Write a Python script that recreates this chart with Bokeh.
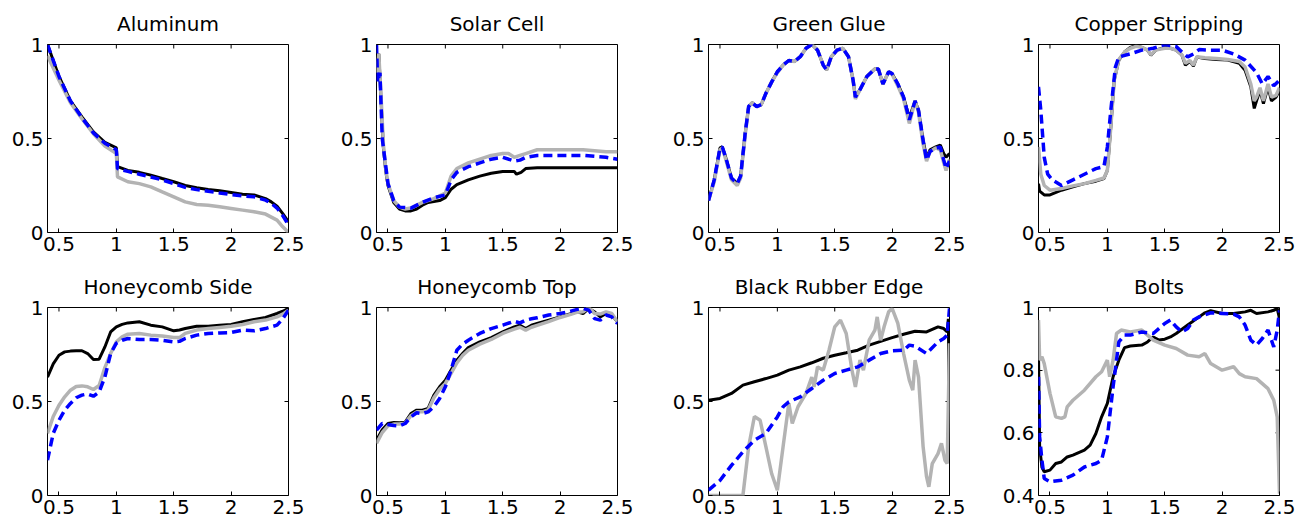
import math
from bokeh.plotting import figure
from bokeh.layouts import column, row
from bokeh.models import FixedTicker, Range1d
from bokeh.embed import file_html
from bokeh.resources import INLINE

# ---------------- data ----------------
titles = ["Aluminum", "Solar Cell", "Green Glue", "Copper Stripping",
          "Honeycomb Side", "Honeycomb Top", "Black Rubber Edge", "Bolts"]

x_ticks = [0.5, 1, 1.5, 2, 2.5]
x_tick_labels = ["0.5", "1", "1.5", "2", "2.5"]
y_ticks = [0, 0.5, 1]
y_tick_labels = ["0", "0.5", "1"]
bolts_y_ticks = [0.4, 0.6, 0.8, 1]
bolts_y_tick_labels = ["0.4", "0.6", "0.8", "1"]

# Aluminum
alu_bk_x = [0.4, 0.5, 0.6, 0.7, 0.8, 0.9, 1.0, 1.01, 1.1, 1.2, 1.3, 1.4, 1.5, 1.6, 1.7, 1.8, 1.9, 2.0, 2.1, 2.2, 2.3, 2.35, 2.4, 2.45, 2.5]
alu_bk_y = [1.0, 0.83, 0.70, 0.615, 0.535, 0.48, 0.45, 0.35, 0.33, 0.32, 0.305, 0.287, 0.27, 0.25, 0.238, 0.229, 0.222, 0.213, 0.204, 0.2, 0.18, 0.163, 0.14, 0.10, 0.057]
alu_gr_x = [0.4, 0.5, 0.6, 0.7, 0.8, 0.9, 1.0, 1.01, 1.1, 1.2, 1.3, 1.4, 1.5, 1.6, 1.7, 1.8, 1.9, 2.0, 2.1, 2.2, 2.3, 2.4, 2.45, 2.5]
alu_gr_y = [0.94, 0.81, 0.69, 0.605, 0.525, 0.46, 0.42, 0.296, 0.27, 0.26, 0.243, 0.216, 0.19, 0.163, 0.149, 0.145, 0.137, 0.128, 0.119, 0.11, 0.098, 0.066, 0.03, 0.0]
alu_bl_x = [0.4, 0.5, 0.6, 0.7, 0.8, 0.9, 1.0, 1.01, 1.1, 1.2, 1.3, 1.4, 1.5, 1.6, 1.7, 1.8, 1.9, 2.0, 2.1, 2.2, 2.3, 2.35, 2.4, 2.45, 2.5]
alu_bl_y = [1.0, 0.83, 0.70, 0.61, 0.53, 0.475, 0.44, 0.34, 0.325, 0.31, 0.295, 0.28, 0.26, 0.24, 0.228, 0.219, 0.21, 0.202, 0.195, 0.19, 0.172, 0.155, 0.13, 0.09, 0.04]

# Solar Cell
sol_bk_x = [0.4, 0.42, 0.44, 0.46, 0.48, 0.5, 0.55, 0.6, 0.65, 0.7, 0.75, 0.8, 0.85, 0.9, 0.95, 1.0, 1.05, 1.1, 1.2, 1.3, 1.4, 1.5, 1.6, 1.62, 1.66, 1.7, 1.8, 2.0, 2.5]
sol_bk_y = [0.9, 0.95, 0.7, 0.45, 0.33, 0.25, 0.16, 0.125, 0.115, 0.115, 0.125, 0.145, 0.16, 0.165, 0.17, 0.185, 0.23, 0.255, 0.28, 0.3, 0.315, 0.325, 0.325, 0.31, 0.32, 0.34, 0.345, 0.345, 0.345]
sol_gr_x = [0.4, 0.42, 0.44, 0.46, 0.48, 0.5, 0.55, 0.6, 0.65, 0.7, 0.8, 0.9, 1.0, 1.05, 1.1, 1.2, 1.3, 1.4, 1.5, 1.55, 1.6, 1.65, 1.7, 1.8, 2.0, 2.2, 2.4, 2.5]
sol_gr_y = [0.85, 0.95, 0.72, 0.47, 0.34, 0.26, 0.17, 0.135, 0.125, 0.13, 0.16, 0.18, 0.21, 0.3, 0.34, 0.37, 0.39, 0.41, 0.42, 0.42, 0.40, 0.41, 0.42, 0.44, 0.44, 0.44, 0.43, 0.43]
sol_bl_x = [0.4, 0.41, 0.43, 0.45, 0.5, 0.55, 0.6, 0.7, 0.8, 0.9, 1.0, 1.05, 1.1, 1.2, 1.3, 1.4, 1.5, 1.6, 1.65, 1.7, 1.8, 2.0, 2.2, 2.4, 2.5]
sol_bl_y = [1.0, 0.8, 0.85, 0.5, 0.26, 0.17, 0.135, 0.13, 0.16, 0.185, 0.2, 0.28, 0.32, 0.35, 0.37, 0.39, 0.4, 0.38, 0.385, 0.4, 0.41, 0.41, 0.41, 0.4, 0.39]

# Green Glue
glu_x = [0.4, 0.45, 0.5, 0.52, 0.55, 0.6, 0.65, 0.68, 0.72, 0.75, 0.78, 0.82, 0.86, 0.9, 0.95, 1.0, 1.05, 1.1, 1.15, 1.2, 1.25, 1.3, 1.35, 1.4, 1.43, 1.47, 1.52, 1.57, 1.62, 1.66, 1.68, 1.72, 1.78, 1.85, 1.88, 1.92, 1.97, 2.0, 2.05, 2.1, 2.15, 2.2, 2.23, 2.27, 2.3, 2.33, 2.38, 2.42, 2.45, 2.47, 2.5]
glu_bk_y = [0.17, 0.28, 0.45, 0.455, 0.40, 0.29, 0.26, 0.3, 0.53, 0.67, 0.69, 0.67, 0.68, 0.74, 0.8, 0.855, 0.89, 0.915, 0.91, 0.935, 0.98, 1.0, 0.97, 0.89, 0.865, 0.935, 0.97, 0.98, 0.935, 0.81, 0.72, 0.76, 0.83, 0.87, 0.87, 0.79, 0.855, 0.845, 0.79, 0.72, 0.61, 0.70, 0.65, 0.49, 0.40, 0.44, 0.455, 0.465, 0.42, 0.40, 0.42]
glu_gr_y = [0.17, 0.27, 0.44, 0.45, 0.39, 0.28, 0.25, 0.29, 0.52, 0.67, 0.69, 0.67, 0.68, 0.74, 0.8, 0.85, 0.89, 0.915, 0.91, 0.935, 0.98, 1.0, 0.97, 0.89, 0.865, 0.935, 0.97, 0.98, 0.935, 0.81, 0.71, 0.76, 0.83, 0.87, 0.87, 0.79, 0.855, 0.84, 0.78, 0.71, 0.58, 0.70, 0.64, 0.47, 0.38, 0.43, 0.45, 0.44, 0.37, 0.33, 0.39]
glu_bl_y = [0.17, 0.28, 0.45, 0.455, 0.40, 0.29, 0.26, 0.3, 0.53, 0.67, 0.69, 0.67, 0.68, 0.74, 0.8, 0.855, 0.89, 0.915, 0.91, 0.935, 0.98, 1.0, 0.97, 0.89, 0.865, 0.935, 0.97, 0.98, 0.935, 0.81, 0.72, 0.76, 0.83, 0.87, 0.87, 0.79, 0.855, 0.845, 0.79, 0.72, 0.60, 0.70, 0.65, 0.49, 0.385, 0.43, 0.45, 0.455, 0.385, 0.34, 0.38]

# Copper Stripping
cop_bk_x = [0.4, 0.41, 0.45, 0.5, 0.6, 0.7, 0.8, 0.9, 0.97, 1.0, 1.03, 1.06, 1.1, 1.15, 1.2, 1.25, 1.3, 1.35, 1.38, 1.42, 1.5, 1.55, 1.6, 1.65, 1.68, 1.72, 1.75, 1.78, 1.85, 1.95, 2.05, 2.15, 2.2, 2.25, 2.28, 2.3, 2.33, 2.36, 2.4, 2.43, 2.47, 2.5]
cop_bk_y = [0.26, 0.22, 0.2, 0.2, 0.225, 0.243, 0.26, 0.273, 0.287, 0.33, 0.56, 0.81, 0.917, 0.96, 0.985, 0.995, 0.985, 0.97, 0.943, 0.97, 0.985, 0.98, 0.97, 0.943, 0.89, 0.91, 0.885, 0.934, 0.925, 0.92, 0.917, 0.9, 0.863, 0.775, 0.66, 0.7, 0.757, 0.686, 0.775, 0.7, 0.72, 0.757]
cop_gr_x = [0.4, 0.42, 0.45, 0.5, 0.6, 0.7, 0.8, 0.9, 0.97, 1.0, 1.03, 1.06, 1.1, 1.15, 1.2, 1.25, 1.3, 1.35, 1.38, 1.42, 1.5, 1.55, 1.6, 1.65, 1.68, 1.72, 1.75, 1.78, 1.85, 1.95, 2.05, 2.15, 2.2, 2.25, 2.28, 2.3, 2.33, 2.36, 2.4, 2.43, 2.47, 2.5]
cop_gr_y = [0.455, 0.31, 0.25, 0.225, 0.234, 0.248, 0.26, 0.277, 0.29, 0.33, 0.56, 0.81, 0.92, 0.96, 0.98, 0.99, 0.985, 0.97, 0.945, 0.97, 0.98, 0.98, 0.97, 0.945, 0.9, 0.915, 0.89, 0.935, 0.93, 0.925, 0.92, 0.91, 0.88, 0.79, 0.70, 0.72, 0.77, 0.70, 0.79, 0.72, 0.73, 0.77]
cop_bl_x = [0.4, 0.42, 0.45, 0.48, 0.52, 0.6, 0.7, 0.8, 0.9, 0.97, 1.0, 1.03, 1.07, 1.1, 1.2, 1.3, 1.4, 1.5, 1.6, 1.65, 1.7, 1.75, 1.8, 1.9, 2.0, 2.1, 2.2, 2.3, 2.35, 2.4, 2.45, 2.5]
cop_bl_y = [0.775, 0.65, 0.4, 0.31, 0.28, 0.25, 0.28, 0.31, 0.34, 0.35, 0.455, 0.65, 0.88, 0.934, 0.95, 0.97, 0.98, 1.0, 0.99, 0.96, 0.934, 0.95, 0.973, 0.97, 0.97, 0.95, 0.917, 0.85, 0.79, 0.83, 0.78, 0.81]

# Honeycomb Side
hcs_x = [0.4, 0.45, 0.5, 0.55, 0.6, 0.65, 0.7, 0.75, 0.8, 0.85, 0.9, 0.95, 1.0, 1.05, 1.1, 1.2, 1.3, 1.4, 1.5, 1.55, 1.6, 1.7, 1.8, 1.9, 2.0, 2.1, 2.2, 2.3, 2.4, 2.45, 2.5]
hcs_bk_y = [0.63, 0.70, 0.746, 0.764, 0.768, 0.77, 0.77, 0.755, 0.723, 0.725, 0.79, 0.87, 0.897, 0.91, 0.918, 0.924, 0.906, 0.897, 0.876, 0.88, 0.888, 0.9, 0.9, 0.906, 0.91, 0.924, 0.936, 0.947, 0.968, 0.98, 0.995]
hcs_gr_y = [0.33, 0.42, 0.48, 0.525, 0.56, 0.58, 0.583, 0.578, 0.564, 0.585, 0.68, 0.755, 0.817, 0.844, 0.858, 0.862, 0.853, 0.848, 0.84, 0.84, 0.862, 0.88, 0.888, 0.894, 0.9, 0.91, 0.924, 0.933, 0.95, 0.965, 0.986]
hcs_bl_y = [0.188, 0.33, 0.40, 0.454, 0.49, 0.52, 0.534, 0.54, 0.528, 0.55, 0.63, 0.755, 0.81, 0.826, 0.835, 0.83, 0.83, 0.826, 0.817, 0.82, 0.835, 0.853, 0.862, 0.865, 0.867, 0.88, 0.876, 0.888, 0.906, 0.94, 0.986]

# Honeycomb Top
hct_x = [0.4, 0.45, 0.5, 0.55, 0.6, 0.65, 0.7, 0.75, 0.8, 0.85, 0.9, 0.95, 1.0, 1.05, 1.1, 1.15, 1.2, 1.3, 1.4, 1.5, 1.6, 1.65, 1.7, 1.75, 1.8, 1.9, 2.0, 2.1, 2.15, 2.2, 2.25, 2.3, 2.35, 2.4, 2.45, 2.5]
hct_bk_y = [0.294, 0.35, 0.383, 0.388, 0.387, 0.39, 0.436, 0.454, 0.454, 0.463, 0.534, 0.578, 0.613, 0.667, 0.72, 0.755, 0.787, 0.817, 0.84, 0.87, 0.897, 0.906, 0.888, 0.906, 0.915, 0.933, 0.95, 0.968, 0.977, 0.968, 0.995, 0.977, 0.95, 0.968, 0.96, 0.924]
hct_gr_y = [0.277, 0.335, 0.37, 0.38, 0.38, 0.385, 0.425, 0.445, 0.445, 0.455, 0.52, 0.565, 0.596, 0.65, 0.705, 0.745, 0.773, 0.805, 0.83, 0.862, 0.885, 0.895, 0.88, 0.895, 0.905, 0.925, 0.947, 0.965, 0.975, 0.977, 1.0, 0.968, 0.965, 0.977, 0.968, 0.924]
hct_bl_y = [0.348, 0.383, 0.378, 0.372, 0.37, 0.383, 0.418, 0.44, 0.436, 0.445, 0.472, 0.516, 0.578, 0.667, 0.773, 0.805, 0.826, 0.862, 0.888, 0.906, 0.927, 0.918, 0.933, 0.94, 0.945, 0.96, 0.968, 0.982, 0.99, 0.995, 0.986, 0.941, 0.933, 0.96, 0.95, 0.915]

# Black Rubber Edge
bre_bk_x = [0.4, 0.5, 0.6, 0.7, 0.8, 0.9, 1.0, 1.1, 1.2, 1.3, 1.4, 1.5, 1.6, 1.7, 1.8, 1.9, 2.0, 2.1, 2.2, 2.3, 2.4, 2.45, 2.48, 2.49, 2.5]
bre_bk_y = [0.507, 0.516, 0.543, 0.587, 0.605, 0.622, 0.64, 0.667, 0.684, 0.706, 0.73, 0.746, 0.759, 0.773, 0.8, 0.82, 0.84, 0.858, 0.874, 0.87, 0.897, 0.888, 0.87, 0.94, 0.33]
bre_bl_x = [0.4, 0.5, 0.6, 0.7, 0.8, 0.9, 1.0, 1.05, 1.1, 1.2, 1.3, 1.4, 1.5, 1.6, 1.7, 1.8, 1.9, 2.0, 2.1, 2.15, 2.2, 2.3, 2.4, 2.45, 2.48, 2.5]
bre_bl_y = [0.028, 0.08, 0.16, 0.232, 0.294, 0.33, 0.418, 0.472, 0.498, 0.525, 0.569, 0.613, 0.649, 0.667, 0.684, 0.72, 0.755, 0.77, 0.773, 0.8, 0.794, 0.755, 0.817, 0.835, 0.853, 0.995]
bre_gr_x = [0.4, 0.7, 0.75, 0.8, 0.85, 0.9, 0.95, 1.0, 1.05, 1.1, 1.13, 1.18, 1.25, 1.3, 1.32, 1.35, 1.4, 1.45, 1.5, 1.55, 1.6, 1.65, 1.68, 1.72, 1.75, 1.8, 1.85, 1.87, 1.9, 1.93, 1.97, 2.0, 2.05, 2.1, 2.15, 2.18, 2.2, 2.23, 2.27, 2.3, 2.32, 2.35, 2.4, 2.43, 2.46, 2.48, 2.5]
bre_gr_y = [0.0, 0.0, 0.26, 0.42, 0.40, 0.26, 0.117, 0.028, 0.26, 0.49, 0.383, 0.472, 0.543, 0.63, 0.578, 0.684, 0.667, 0.773, 0.897, 0.933, 0.862, 0.667, 0.578, 0.72, 0.667, 0.826, 0.879, 0.95, 0.826, 0.897, 0.977, 0.995, 0.915, 0.755, 0.613, 0.56, 0.72, 0.63, 0.26, 0.1, 0.046, 0.17, 0.223, 0.277, 0.188, 0.17, 0.81]

# Bolts
bol_bk_x = [0.4, 0.41, 0.43, 0.45, 0.5, 0.55, 0.6, 0.65, 0.7, 0.8, 0.85, 0.9, 0.95, 1.0, 1.05, 1.1, 1.15, 1.2, 1.3, 1.35, 1.4, 1.45, 1.5, 1.55, 1.6, 1.7, 1.8, 1.85, 1.9, 2.0, 2.1, 2.2, 2.25, 2.3, 2.4, 2.45, 2.48, 2.5]
bol_bk_y = [0.853, 0.555, 0.49, 0.476, 0.481, 0.502, 0.507, 0.523, 0.529, 0.545, 0.561, 0.598, 0.651, 0.694, 0.779, 0.832, 0.872, 0.877, 0.88, 0.89, 0.906, 0.896, 0.899, 0.906, 0.917, 0.944, 0.97, 0.983, 0.99, 0.981, 0.981, 0.986, 0.991, 0.981, 0.986, 0.991, 0.997, 0.965]
bol_bl_x = [0.4, 0.41, 0.43, 0.45, 0.5, 0.6, 0.7, 0.8, 0.9, 0.95, 1.0, 1.05, 1.1, 1.15, 1.2, 1.3, 1.4, 1.5, 1.55, 1.6, 1.65, 1.7, 1.75, 1.8, 1.9, 2.0, 2.1, 2.15, 2.2, 2.25, 2.3, 2.35, 2.4, 2.45, 2.48, 2.5]
bol_bl_y = [0.779, 0.587, 0.513, 0.454, 0.444, 0.449, 0.465, 0.491, 0.502, 0.513, 0.587, 0.747, 0.89, 0.912, 0.912, 0.922, 0.917, 0.949, 0.96, 0.938, 0.922, 0.933, 0.96, 0.97, 0.983, 0.981, 0.979, 0.97, 0.944, 0.896, 0.88, 0.901, 0.928, 0.874, 0.928, 0.991]
bol_gr_x = [0.4, 0.41, 0.43, 0.45, 0.5, 0.55, 0.6, 0.63, 0.65, 0.7, 0.8, 0.9, 0.95, 1.0, 1.02, 1.05, 1.08, 1.12, 1.2, 1.3, 1.4, 1.5, 1.6, 1.7, 1.8, 1.85, 1.9, 2.0, 2.1, 2.15, 2.2, 2.3, 2.4, 2.45, 2.48, 2.5]
bol_gr_y = [0.96, 0.832, 0.843, 0.821, 0.726, 0.651, 0.646, 0.651, 0.683, 0.704, 0.736, 0.779, 0.795, 0.832, 0.779, 0.832, 0.917, 0.928, 0.922, 0.928, 0.896, 0.88, 0.869, 0.848, 0.843, 0.853, 0.821, 0.8, 0.811, 0.789, 0.779, 0.773, 0.741, 0.704, 0.651, 0.406]

panels = [
    (alu_bk_x, alu_bk_y, alu_gr_x, alu_gr_y, alu_bl_x, alu_bl_y),
    (sol_bk_x, sol_bk_y, sol_gr_x, sol_gr_y, sol_bl_x, sol_bl_y),
    (glu_x, glu_bk_y, glu_x, glu_gr_y, glu_x, glu_bl_y),
    (cop_bk_x, cop_bk_y, cop_gr_x, cop_gr_y, cop_bl_x, cop_bl_y),
    (hcs_x, hcs_bk_y, hcs_x, hcs_gr_y, hcs_x, hcs_bl_y),
    (hct_x, hct_bk_y, hct_x, hct_gr_y, hct_x, hct_bl_y),
    (bre_bk_x, bre_bk_y, bre_gr_x, bre_gr_y, bre_bl_x, bre_bl_y),
    (bol_bk_x, bol_bk_y, bol_gr_x, bol_gr_y, bol_bl_x, bol_bl_y),
]

# ---------------- layout / style ----------------
FONT = "DejaVu Sans"
FS = "20px"
col_widths = [329, 331, 330, 319]
col_left = [47, 47, 48, 48]
row_heights = [263, 264]
BLACK = "#000000"
GRAY = "#b3b3b3"
BLUE = "#0000ff"
X0, X1 = 0.4, 2.5


def style_axis(ax):
    ax.axis_line_color = None
    ax.major_tick_in = 4
    ax.major_tick_out = 0
    ax.minor_tick_line_color = None
    ax.major_tick_line_color = "black"
    ax.major_label_text_font = FONT
    ax.major_label_text_font_size = FS
    ax.major_label_text_color = "black"
    ax.major_label_standoff = 4


def make(i):
    r, c = divmod(i, 4)
    w = col_widths[c]
    h = row_heights[r]
    left = col_left[c]
    right = w - left - 241
    bottom = h - 44 - 188
    is_bolts = (i == 7)
    yt = bolts_y_ticks if is_bolts else y_ticks
    ytl = bolts_y_tick_labels if is_bolts else y_tick_labels
    y0, y1 = (0.4 if is_bolts else 0.0), 1.0

    p = figure(width=w, height=h, output_backend="svg", toolbar_location=None,
               x_range=Range1d(X0, X1), y_range=Range1d(y0, y1),
               min_border_left=left, min_border_right=right,
               min_border_top=44, min_border_bottom=bottom,
               title=titles[i])
    p.title.text_font = FONT
    p.title.text_font_size = FS
    p.title.text_font_style = "normal"
    p.title.align = "center"
    p.title.text_color = "black"
    p.title.offset = 0
    p.title.standoff = 17
    p.grid.visible = False
    p.outline_line_color = "black"
    p.outline_line_width = 1
    p.background_fill_color = "white"
    p.border_fill_color = "white"

    p.xaxis.ticker = FixedTicker(ticks=x_ticks)
    p.xaxis.major_label_overrides = dict(zip(x_ticks, x_tick_labels))
    p.yaxis.ticker = FixedTicker(ticks=yt)
    p.yaxis.major_label_overrides = dict(zip(yt, ytl))
    style_axis(p.xaxis[0])
    style_axis(p.yaxis[0])

    # box ticks on top and right edges (inward), placed at the tick values
    p.ray(x=x_ticks, y=[y1] * len(x_ticks), length=4, length_units="screen",
          angle=-math.pi / 2, line_color="black", line_width=1)
    p.ray(x=[X1] * len(yt), y=yt, length=4, length_units="screen",
          angle=math.pi, line_color="black", line_width=1)

    bx, by, gx, gy, lx, ly = panels[i]
    p.line(bx, by, line_color=BLACK, line_width=3)
    p.line(gx, gy, line_color=GRAY, line_width=3.5)
    p.line(lx, ly, line_color=BLUE, line_width=3.5, line_dash="9 5")
    return p


figs = [make(i) for i in range(8)]
layout = column(row(*figs[:4], spacing=0), row(*figs[4:], spacing=0), spacing=0)

open("out.html", "w").write(file_html(layout, INLINE))
